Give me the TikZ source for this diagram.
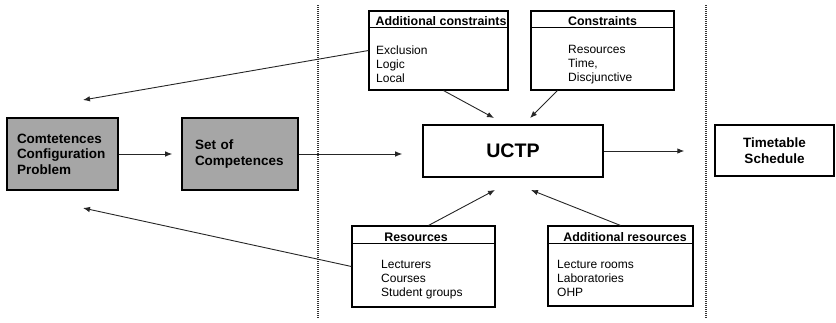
\documentclass[tikz,border=0pt]{standalone}
\usepackage{fontspec}
\setmainfont{Liberation Sans}
\usepackage{tikz}
\usetikzlibrary{arrows.meta}

\begin{document}
\begin{tikzpicture}[x=1pt, y=-1pt]
    \tikzstyle{mainbox} = [rectangle, draw, line width=1.6pt, inner sep=0pt, align=left, font=\bfseries\fontsize{13.5}{15.5}\selectfont]
    \tikzstyle{infobox} = [rectangle, draw, line width=1.1pt, inner sep=0pt]
    \tikzstyle{infoline} = [line width=1.1pt]
    \tikzstyle{hdr} = [inner sep=0pt, font=\bfseries\fontsize{12.4}{14}\selectfont]
    \tikzstyle{body} = [inner sep=0pt, align=left, font=\fontsize{12}{14}\selectfont]
    \tikzstyle{arr} = [-{Latex[length=7pt, width=5.5pt]}, line width=0.9pt, black!85]
    \tikzstyle{sepline} = [line width=1.2pt, dash pattern=on 1pt off 1pt, black!80]
    \useasboundingbox (0,0) rectangle (836,322);

    % dotted separators
    \draw[sepline] (318,5) -- (318,318);
    \draw[sepline] (706,5) -- (706,318);

    % main flow
    \node[mainbox, fill=black!35, minimum width=111pt, minimum height=72pt, text width=91pt] (ccp) at (62.5,154) {Comtetences\\Configuration\\Problem};
    \node[mainbox, fill=black!35, minimum width=116pt, minimum height=72pt, text width=90pt] (soc) at (240,154) {Set of\\Competences};
    \node[mainbox, minimum width=180pt, minimum height=52pt, font=\bfseries\fontsize{19.6}{22}\selectfont] (uctp) at (513,151) {UCTP};
    \node[mainbox, line width=1.4pt, align=center, minimum width=119pt, minimum height=51pt] (tts) at (774.5,150.5) {Timetable\\Schedule};

    % constraint boxes
    \node[infobox, minimum width=139pt, minimum height=79pt] (addcons) at (438.5,50.5) {};
    \draw[infoline] ([yshift=-17pt]addcons.north west) -- ([yshift=-17pt]addcons.north east);
    \node[hdr, anchor=base] (addconsh) at (441,25) {Additional constraints};
    \node[body, anchor=north west] (addconsb) at (376,45.5) {Exclusion\\Logic\\Local};

    \node[infobox, minimum width=143pt, minimum height=79pt] (cons) at (602.5,50.5) {};
    \draw[infoline] ([yshift=-17pt]cons.north west) -- ([yshift=-17pt]cons.north east);
    \node[hdr, anchor=base] (consh) at (602.5,25) {Constraints};
    \node[body, anchor=north west] (consb) at (568,45.5) {Resources\\Time,\\Discjunctive};

    % resource boxes
    \node[infobox, minimum width=143pt, minimum height=81pt] (res) at (423.5,266.5) {};
    \draw[infoline] ([yshift=-18pt]res.north west) -- ([yshift=-18pt]res.north east);
    \node[hdr, anchor=base] (resh) at (416,241) {Resources};
    \node[body, anchor=north west] (resb) at (381,260.4) {Lecturers\\Courses\\Student groups};

    \node[infobox, minimum width=145pt, minimum height=80pt] (ares) at (620.5,266) {};
    \draw[infoline] ([yshift=-18pt]ares.north west) -- ([yshift=-18pt]ares.north east);
    \node[hdr, anchor=base] (aresh) at (625,241) {Additional resources};
    \node[body, anchor=north west] (aresb) at (557,260.4) {Lecture rooms\\Laboratories\\OHP};

    % connectors
    \coordinate (tipA) at (83,100);
    \coordinate (tipB) at (83,208);
    \coordinate (inA) at (494,118);
    \coordinate (inB) at (530,118);
    \coordinate (inC) at (495,190);
    \coordinate (inD) at (531,190);
    \draw[arr, shorten >=9pt] (ccp.east) -- (soc.west);
    \draw[arr, shorten >=20pt] (soc.east) -- (soc.east -| uctp.west);
    \draw[arr, shorten >=30pt] (uctp.east) -- (uctp.east -| tts.west);
    \draw[arr] ([xshift=5pt]addcons.south) -- (inA);
    \draw[arr] ([xshift=-45pt]cons.south) -- (inB);
    \draw[arr] ([xshift=5pt]res.north) -- (inC);
    \draw[arr] (ares.north) -- (inD);
    \draw[arr] (addcons.west) -- (tipA);
    \draw[arr] (res.west) -- (tipB);
\end{tikzpicture}
\end{document}
